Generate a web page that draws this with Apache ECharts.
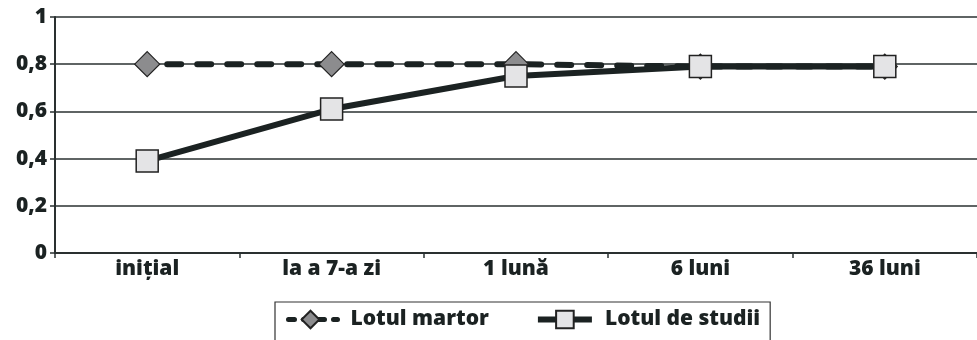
<!DOCTYPE html>
<html>
<head>
<meta charset="utf-8">
<script src="https://cdn.jsdelivr.net/npm/echarts@6/dist/echarts.min.js"></script>
<style>
html,body{margin:0;padding:0;background:#fff;}
#c{width:977px;height:340px;}
</style>
</head>
<body>
<div id="c"></div>
<script>
var categories = ['inițial', 'la a 7-a zi', '1 lună', '6 luni', '36 luni'];
var martorValues = [0.8, 0.8, 0.8, 0.79, 0.79];
var studiiValues = [0.39, 0.61, 0.75, 0.79, 0.79];
var seriesNames = ['Lotul martor', 'Lotul de studii'];
var yTicks = [0, 0.2, 0.4, 0.6, 0.8, 1];

var FONT = '"Open Sans", sans-serif';
var DARK = '#1b2222';
var WEIGHT = 800;

var chart = echarts.init(document.getElementById('c'), null, {renderer: 'canvas'});
chart.setOption({
  animation: false,
  backgroundColor: '#ffffff',
  grid: {left: 55, width: 935, top: 17, bottom: 87, containLabel: false},
  legend: {
    left: 275,
    top: 302,
    width: 487,
    padding: [7, 10, 20, 6],
    borderColor: '#333',
    borderWidth: 1.2,
    itemWidth: 54,
    itemHeight: 22,
    itemGap: 46,
    textStyle: {fontFamily: FONT, fontWeight: WEIGHT, fontSize: 21, color: DARK, padding: [0, 0, 0, 8]},
    data: [
      {name: seriesNames[0], lineStyle: {width: 5, type: [6, 9], cap: 'round', color: DARK}},
      {name: seriesNames[1], lineStyle: {width: 6, color: DARK}}
    ]
  },
  xAxis: {
    type: 'category',
    data: categories,
    boundaryGap: true,
    axisLine: {lineStyle: {color: '#2a3030', width: 2}},
    axisTick: {show: true, length: 5, lineStyle: {color: '#2a3030', width: 1.5}},
    axisLabel: {fontFamily: FONT, fontWeight: WEIGHT, fontSize: 21, color: DARK, margin: 6}
  },
  yAxis: {
    type: 'value',
    min: 0,
    max: 1,
    interval: 0.2,
    axisLine: {show: true, lineStyle: {color: '#2a3030', width: 2}},
    axisTick: {show: true, length: 5, lineStyle: {color: '#2a3030', width: 1.5}},
    splitLine: {show: true, lineStyle: {color: '#2a3030', width: 1.5}},
    axisLabel: {
      fontFamily: FONT, fontWeight: WEIGHT, fontSize: 21, color: DARK, margin: 8,
      formatter: function (v) {
        var t = yTicks.find(function (x) { return Math.abs(x - v) < 1e-9; });
        return (t === undefined ? v : t).toString().replace('.', ',');
      }
    }
  },
  series: [
    {
      name: seriesNames[0],
      type: 'line',
      data: martorValues,
      symbol: 'diamond',
      symbolSize: 25,
      itemStyle: {color: '#8c8c8e', borderColor: '#222', borderWidth: 1.2},
      lineStyle: {color: DARK, width: 6, type: [14, 16], cap: 'round', dashOffset: -20},
      z: 2
    },
    {
      name: seriesNames[1],
      type: 'line',
      data: studiiValues,
      symbol: 'rect',
      symbolSize: 22,
      itemStyle: {color: '#e4e4e6', borderColor: '#222', borderWidth: 1.5},
      lineStyle: {color: DARK, width: 6},
      z: 3
    }
  ]
});
</script>
</body>
</html>
